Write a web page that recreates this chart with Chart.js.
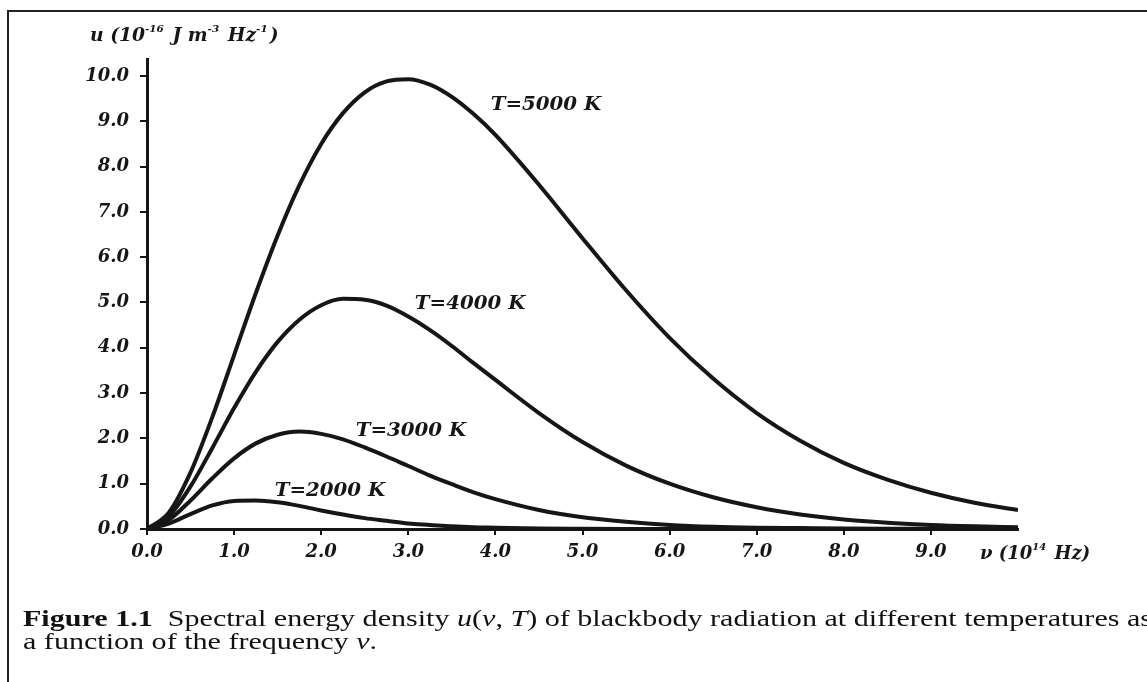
<!DOCTYPE html>
<html>
<head>
<meta charset="utf-8">
<title>Spectral energy density of blackbody radiation</title>
<script src="https://cdn.jsdelivr.net/npm/chart.js@4.4.0/dist/chart.umd.min.js"></script>
<style>
    html, body { margin: 0; padding: 0; background: #fff; }
    canvas { display: block; }
</style>
</head>
<body>
<canvas id="planckChart" width="1147" height="682"></canvas>
<script>
"use strict";

// frequency, 10^14 Hz
var freq = [0, 0.25, 0.5, 0.75, 1, 1.25, 1.5, 1.75, 2, 2.25, 2.5, 2.75, 3, 3.25, 3.5, 3.75, 4,
    4.5, 5, 5.5, 6, 6.5, 7, 7.5, 8, 8.5, 9, 9.5, 10];

// u, 10^-16 J m^-3 Hz^-1
var u2000 = [0, 0.12, 0.33, 0.52, 0.62, 0.63, 0.59, 0.51, 0.41, 0.32, 0.24, 0.18, 0.12, 0.09, 0.06, 0.04, 0.03,
    0.01, 0.005, 0.002, 0.001, 0, 0, 0, 0, 0, 0, 0, 0];
var u3000 = [0, 0.20, 0.63, 1.12, 1.56, 1.89, 2.08, 2.15, 2.10, 1.98, 1.80, 1.60, 1.39, 1.18, 0.99, 0.81, 0.66,
    0.42, 0.26, 0.16, 0.09, 0.05, 0.03, 0.02, 0.01, 0.005, 0.003, 0.001, 0.001];
var u4000 = [0, 0.28, 0.94, 1.79, 2.67, 3.47, 4.13, 4.62, 4.94, 5.08, 5.06, 4.93, 4.69, 4.39, 4.04, 3.66, 3.29,
    2.56, 1.92, 1.40, 1.00, 0.70, 0.48, 0.32, 0.21, 0.14, 0.09, 0.06, 0.04];
var u5000 = [0, 0.36, 1.25, 2.47, 3.84, 5.21, 6.48, 7.59, 8.50, 9.18, 9.64, 9.88, 9.93, 9.81, 9.54, 9.16, 8.70,
    7.60, 6.42, 5.27, 4.22, 3.32, 2.56, 1.95, 1.46, 1.09, 0.80, 0.58, 0.42];

var curveNames = ["T=2000 K", "T=3000 K", "T=4000 K", "T=5000 K"];
var xTicks = [0, 1, 2, 3, 4, 5, 6, 7, 8, 9];
var yTicks = [0, 1, 2, 3, 4, 5, 6, 7, 8, 9, 10];

// where the curve names sit (data units)
var nameSpots = [[2.10, 0.84], [3.03, 2.16], [3.71, 4.97], [4.58, 9.36]];

var ink = "#161616";
var boldItalic = "italic bold 18px 'DejaVu Serif', serif";
var supFont = "italic bold 10px 'DejaVu Serif', serif";
var captionSize = 24;
var tickFont = { family: "'DejaVu Serif', serif", size: 18, style: "italic", weight: "bold" };

function points(ys) {
    return freq.map(function (f, i) {
        return { x: f, y: ys[i] };
    });
}

function curve(ys) {
    return {
        data: points(ys),
        borderColor: ink,
        borderWidth: 4,
        pointRadius: 0,
        fill: false,
        cubicInterpolationMode: "monotone"
    };
}

// text with superscripts: parts = [[text, isSup], ...], stretched by sx
function drawParts(ctx, parts, x, y, sx) {
    ctx.save();
    ctx.translate(x, y);
    ctx.scale(sx, 1);
    var cx = 0;
    parts.forEach(function (p) {
        ctx.font = p[1] ? supFont : boldItalic;
        ctx.fillText(p[0], cx, p[1] ? -7 : 0);
        cx += ctx.measureText(p[0]).width + (p[1] ? 2 : 0);
    });
    ctx.restore();
}

function stretchedText(ctx, text, x, y, sx) {
    ctx.save();
    ctx.translate(x, y);
    ctx.scale(sx, 1);
    ctx.fillText(text, 0, 0);
    ctx.restore();
}

function captionFont(style) {
    return (style ? style + " " : "") + captionSize + "px 'Liberation Serif', 'Times New Roman', Tinos, serif";
}

function captionLine(ctx, runs, x, y, sx) {
    ctx.save();
    ctx.translate(x, y);
    ctx.scale(sx, 1);
    var cx = 0;
    runs.forEach(function (r) {
        ctx.font = captionFont(r[1]);
        ctx.fillText(r[0], cx, 0);
        cx += ctx.measureText(r[0]).width;
    });
    ctx.restore();
}

function runsWidth(ctx, runs) {
    var w = 0;
    runs.forEach(function (r) {
        ctx.font = captionFont(r[1]);
        w += ctx.measureText(r[0]).width;
    });
    return w;
}

var captionRuns1 = [["Figure 1.1", "bold"], ["  Spectral energy density ", ""], ["u", "italic"], ["(", ""],
    ["\u03bd", "italic"], [", ", ""], ["T", "italic"], [") of blackbody radiation at different temperatures as", ""]];
var captionRuns2 = [["a function of the frequency ", ""], ["\u03bd", "italic"], [".", ""]];

var decorations = {
    id: "decorations",
    beforeDraw: function (chart) {
        var ctx = chart.ctx;
        ctx.save();
        ctx.fillStyle = "#fff";
        ctx.fillRect(0, 0, chart.width, chart.height);
        ctx.strokeStyle = "#222";
        ctx.lineWidth = 2;
        ctx.strokeRect(8, 11, 1300, 800);
        ctx.restore();
    },
    afterDraw: function (chart) {
        var ctx = chart.ctx,
            xs = chart.scales.x,
            ys = chart.scales.y;
        ctx.save();
        ctx.fillStyle = ink;
        ctx.textBaseline = "middle";

        // axis titles
        drawParts(ctx, [["u (10", false], ["-16", true], [" J m", false], ["-3", true], [" Hz", false], ["-1", true], [")", false]], 90, 36, 1.04);
        drawParts(ctx, [["\u03bd (10", false], ["14", true], [" Hz)", false]], 980, 554, 1.0);

        // curve names
        ctx.font = boldItalic;
        ctx.textAlign = "center";
        curveNames.forEach(function (name, i) {
            stretchedText(ctx, name, xs.getPixelForValue(nameSpots[i][0]), ys.getPixelForValue(nameSpots[i][1]), 1.1);
        });

        // caption
        ctx.textAlign = "left";
        ctx.textBaseline = "alphabetic";
        ctx.fillStyle = "#111";
        var sx = (1152 - 23) / runsWidth(ctx, captionRuns1);
        captionLine(ctx, captionRuns1, 23, 626, sx);
        captionLine(ctx, captionRuns2, 23, 649, sx);
        ctx.restore();
    }
};

var planckChart = new Chart(document.getElementById("planckChart"), {
    type: "line",
    data: {
        datasets: [curve(u2000), curve(u3000), curve(u4000), curve(u5000)]
    },
    options: {
        responsive: false,
        animation: false,
        devicePixelRatio: 1,
        layout: {
            padding: { left: 0, top: 59, right: 129, bottom: 113 }
        },
        plugins: {
            legend: { display: false },
            tooltip: { enabled: false }
        },
        scales: {
            x: {
                type: "linear",
                min: 0,
                max: 10,
                afterBuildTicks: function (axis) {
                    axis.ticks = xTicks.map(function (v) { return { value: v }; });
                },
                afterFit: function (scale) { scale.height = 40; },
                ticks: {
                    font: tickFont,
                    color: ink,
                    padding: 7,
                    maxRotation: 0,
                    autoSkip: false,
                    callback: function (v) { return v.toFixed(1); }
                },
                grid: { drawOnChartArea: false, tickLength: 6, lineWidth: 2, color: ink },
                border: { display: true, width: 3, color: ink }
            },
            y: {
                type: "linear",
                min: 0,
                max: 10.375,
                afterBuildTicks: function (axis) {
                    axis.ticks = yTicks.map(function (v) { return { value: v }; });
                },
                afterFit: function (scale) { scale.width = 147; },
                ticks: {
                    font: tickFont,
                    color: ink,
                    padding: 11,
                    autoSkip: false,
                    callback: function (v) { return v.toFixed(1); }
                },
                grid: { drawOnChartArea: false, tickLength: 7, lineWidth: 2, color: ink },
                border: { display: true, width: 3, color: ink }
            }
        }
    },
    plugins: [decorations]
});
</script>
</body>
</html>
